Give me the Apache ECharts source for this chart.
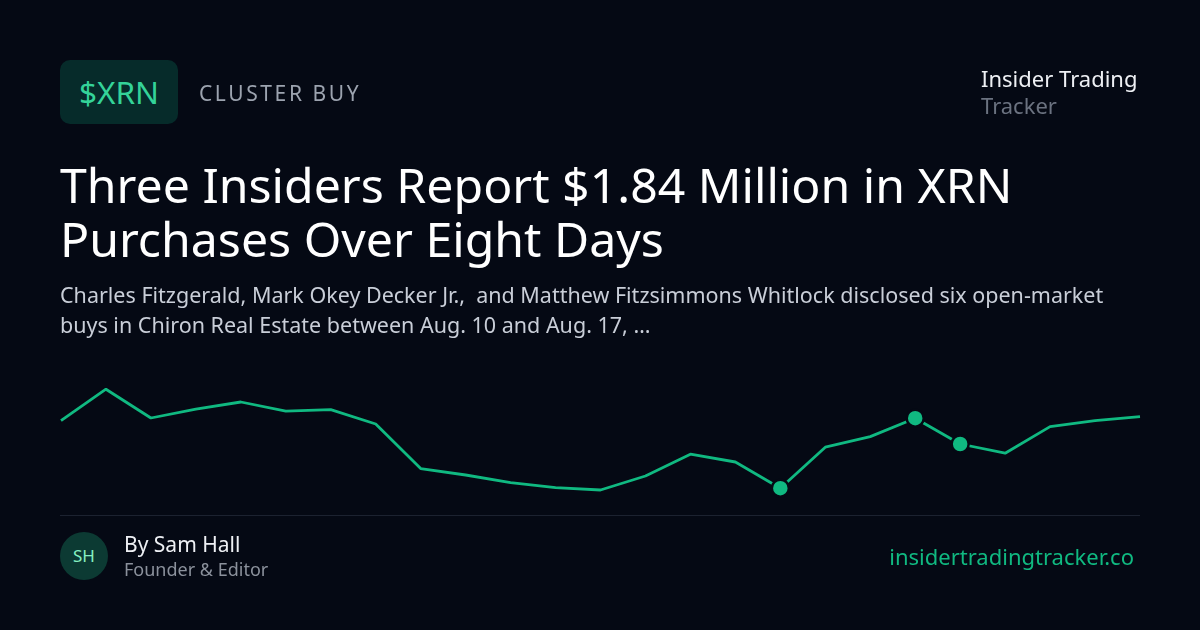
<!DOCTYPE html>
<html lang="en">
<head>
    <meta charset="utf-8">
    <title>XRN Cluster Buy</title>
    <script src="https://cdn.jsdelivr.net/npm/echarts@6/dist/echarts.min.js"></script>
    <style>
        html, body {
            margin: 0;
            padding: 0;
            background: #050914;
            font-family: "Noto Sans", sans-serif;
        }
        .card {
            position: relative;
            width: 1200px;
            height: 630px;
            overflow: hidden;
            background: #050914;
        }
        #chart {
            position: absolute;
            left: 0;
            top: 0;
            width: 1200px;
            height: 630px;
        }
        .badge {
            position: absolute;
            left: 60px;
            top: 60px;
            width: 118px;
            height: 64px;
            border-radius: 10px;
            background: #062b2a;
            color: #34d399;
            font-size: 31.5px;
            line-height: 64px;
            text-align: center;
        }
        .tag {
            position: absolute;
            left: 199px;
            top: 78px;
            color: #9ca3af;
            font-size: 21px;
            letter-spacing: 2.6px;
            line-height: 30px;
        }
        .brand {
            position: absolute;
            left: 981px;
            top: 65px;
            font-size: 22px;
            line-height: 27px;
            color: #eef0f4;
        }
        .brand span {
            display: block;
            color: #6b7280;
        }
        .title {
            position: absolute;
            left: 60px;
            top: 157px;
            width: 1090px;
            color: #ffffff;
            font-size: 48.2px;
            line-height: 54px;
        }
        .sub {
            position: absolute;
            left: 60px;
            top: 280px;
            width: 1080px;
            color: #c9ced8;
            font-size: 21.5px;
            line-height: 30px;
            white-space: pre-wrap;
        }
        .rule {
            position: absolute;
            left: 60px;
            top: 515px;
            width: 1080px;
            height: 1px;
            background: #1c2230;
        }
        .avatar {
            position: absolute;
            left: 60px;
            top: 532px;
            width: 48px;
            height: 48px;
            border-radius: 50%;
            background: #0c3a33;
            color: #86efc2;
            font-size: 17px;
            line-height: 48px;
            text-align: center;
        }
        .author {
            position: absolute;
            left: 124px;
            top: 531px;
            color: #eef0f4;
            font-size: 21px;
            line-height: 27px;
        }
        .author span {
            display: block;
            color: #8b919c;
            font-size: 18px;
            line-height: 22px;
        }
        .site {
            position: absolute;
            right: 66px;
            top: 541px;
            color: #10b981;
            font-size: 22px;
            line-height: 30px;
        }
    </style>
</head>
<body>
<div class="card">
    <div id="chart"></div>
    <div class="badge">$XRN</div>
    <div class="tag">CLUSTER BUY</div>
    <div class="brand">Insider Trading<span>Tracker</span></div>
    <div class="title">Three Insiders Report $1.84 Million in XRN Purchases Over Eight Days</div>
    <div class="sub">Charles Fitzgerald, Mark Okey Decker Jr.,  and Matthew Fitzsimmons Whitlock disclosed six open-market buys in Chiron Real Estate between Aug. 10 and Aug. 17, …</div>
    <div class="rule"></div>
    <div class="avatar">SH</div>
    <div class="author">By Sam Hall<span>Founder &amp; Editor</span></div>
    <div class="site">insidertradingtracker.co</div>
</div>

<script>
    // daily closes
    var days = ['D1', 'D2', 'D3', 'D4', 'D5', 'D6', 'D7', 'D8', 'D9', 'D10', 'D11', 'D12', 'D13',
        'D14', 'D15', 'D16', 'D17', 'D18', 'D19', 'D20', 'D21', 'D22', 'D23', 'D24', 'D25'];
    var closes = [21.97, 23.54, 22.10, 22.54, 22.90, 22.44, 22.52, 21.80, 19.57, 19.25, 18.87, 18.62, 18.50,
        19.20, 20.29, 19.90, 18.59, 20.64, 21.17, 22.09, 20.80, 20.34, 21.67, 21.97, 22.17];
    // days with an insider purchase
    var buyDays = [16, 19, 20];

    var chart = echarts.init(document.getElementById('chart'));

    var points = closes.map(function (v, i) {
        if (buyDays.indexOf(i) >= 0) {
            return {
                value: v,
                symbol: 'circle',
                symbolSize: 17,
                itemStyle: { color: '#10b981', borderColor: '#050914', borderWidth: 2.5 }
            };
        }
        return { value: v, symbol: 'none' };
    });

    chart.setOption({
        animation: false,
        grid: { left: 61, right: 60, top: 380, height: 120 },
        xAxis: {
            type: 'category',
            data: days,
            boundaryGap: false,
            show: false
        },
        yAxis: {
            type: 'value',
            min: 18,
            max: 24,
            show: false
        },
        series: [{
            type: 'line',
            data: points,
            showSymbol: true,
            lineStyle: { color: '#10b981', width: 2.8 },
            itemStyle: { color: '#10b981' },
            z: 3
        }]
    });
</script>
</body>
</html>
